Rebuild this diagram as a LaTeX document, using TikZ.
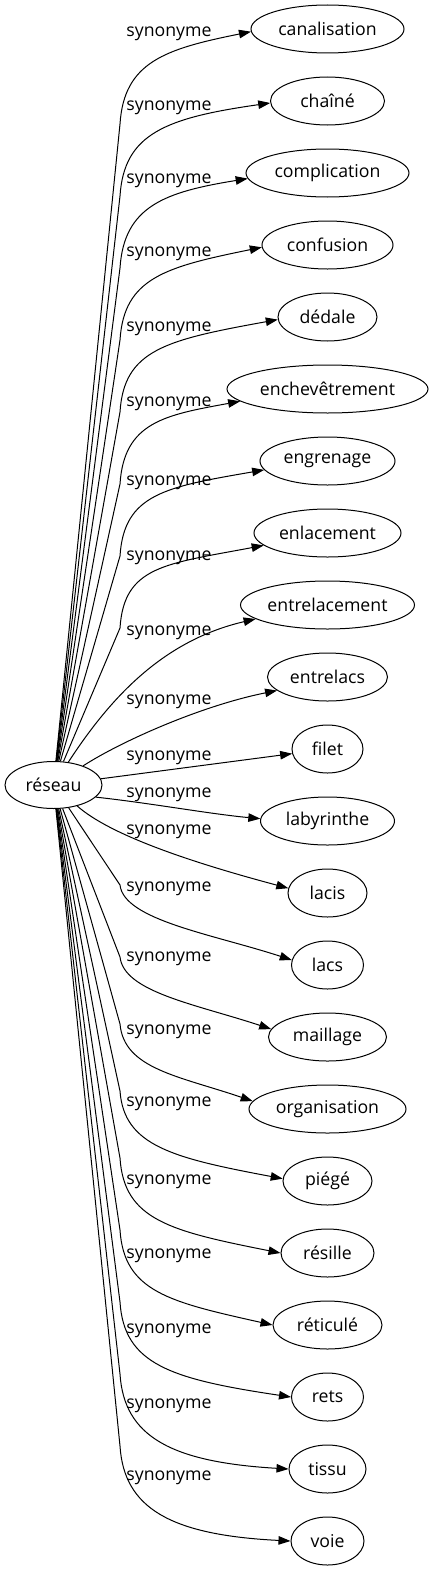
\documentclass[tikz,border=0pt]{standalone}
\usepackage{fontspec}
\setmainfont{Open Sans}
\usetikzlibrary{shapes.geometric,arrows.meta}
\begin{document}
\begin{tikzpicture}[x=1pt,y=-1pt,
  tgt/.style={ellipse,draw,line width=1pt,minimum height=48pt,inner sep=0pt,font=\fontsize{17.7}{20}\selectfont},
  src/.style={ellipse,draw,line width=1pt,minimum height=47pt,minimum width=97pt,inner sep=0pt,font=\fontsize{17.7}{20}\selectfont},
  edge/.style={line width=1pt,-{Triangle[length=12pt,width=8.5pt]}},
  lab/.style={anchor=base,inner sep=0pt,font=\fontsize{17.7}{20}\selectfont}]
\fill[white] (0,0) rectangle (433,1571);
\useasboundingbox (0,0) rectangle (433,1571);
\node[src] (r) at (53.5,785) {réseau};
\foreach \i/\t/\w in {0/canalisation/153,1/chaîné/114,2/complication/163,3/confusion/131,
  4/dédale/99,5/enchevêtrement/201,6/engrenage/135,7/enlacement/147,8/entrelacement/174,
  9/entrelacs/120,10/filet/71,11/labyrinthe/134,12/lacis/79,13/lacs/72,14/maillage/118,
  15/organisation/157,16/piégé/89,17/résille/93,18/réticulé/109,19/rets/72,20/tissu/77,21/voie/73}
  \node[tgt,minimum width=\w pt] (n\i) at (327.5,29+72*\i) {\t};
\foreach \i/\ly in {0/32,1/105,2/178,3/251.7,4/326,5/401.7,6/480,7/555,8/630,9/699.3,10/755.7,
  11/792.7,12/829.3,13/886,14/956.8,15/1029,16/1101.7,17/1179,18/1253.2,19/1328,20/1403,21/1475}
  \node[lab] (l\i) at (169,\ly+5) {synonyme};
% upper edges
\foreach \i/\d/\ang [evaluate=\i as \yy using 29+72*\i] in {0/20/182,1/17/182,2/19/184,3/22/182,4/23/183,5/26/188,6/26/188,7/31/191}
  \draw[edge] (r) -- (120,\yy+95) .. controls (124,\yy+33) and (165,\yy+\d) .. (n\i.\ang);
\draw[edge] (r) .. controls (112,695) and (165,640) .. (n8.191);
\draw[edge] (r) .. controls (120,742) and (200,706) .. (n9.195);
\draw[edge] (r) -- (n10);
\draw[edge] (r.-16) .. controls (150,803) and (210,814) .. (n11.178);
\draw[edge] (r) .. controls (110,835) and (190,862) .. (n12.173);
% lower edges
\foreach \i/\a/\b/\cx/\cy/\ang [evaluate=\i as \yy using 29+72*\i] in {13/80/45/212/934/172,14/80/45/195/1004/172,
  15/85/40/179/1076/174,16/90/35/173/1158/177,17/95/33/170/1231/180,18/95/33/170/1302/180,
  19/95/33/170/1379/180,20/95/33/170/1462/180,21/95/33/170/1535/180}
  \draw[edge] (r) -- (120,\yy-\a) .. controls (124,\yy-\b) and (\cx,\cy) .. (n\i.\ang);
\end{tikzpicture}
\end{document}
